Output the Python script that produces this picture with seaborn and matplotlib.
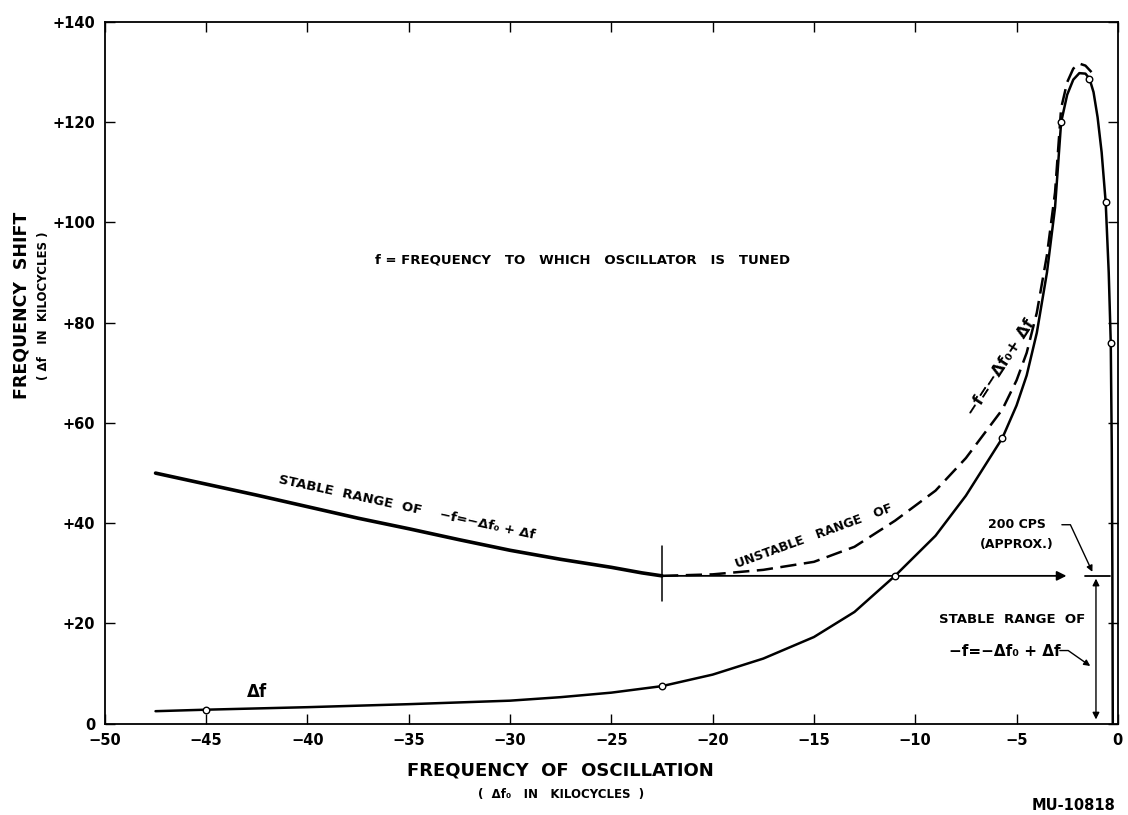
import matplotlib
matplotlib.use("Agg")
import matplotlib.pyplot as plt
import seaborn as sns
import pandas as pd

# Δf curve (frequency shift vs frequency of oscillation)
df_x = [-47.5, -45, -40, -35, -30, -27.5, -25, -22.5, -20, -17.5, -15, -13, -11, -9, -7.5,
        -5.7, -5.0, -4.5, -4.0, -3.5, -3.1, -2.8, -2.5, -2.2, -1.9, -1.6, -1.4, -1.2, -1.0,
        -0.8, -0.6, -0.45, -0.35, -0.3, -0.27, -0.25]
df_y = [2.5, 2.8, 3.3, 3.9, 4.6, 5.3, 6.2, 7.5, 9.8, 13.0, 17.3, 22.3, 29.5, 37.5, 45.5,
        57, 63.5, 69.5, 78, 90, 103, 120, 125.5, 128.5, 129.8, 129.7, 128.7, 126, 121,
        114, 104, 90, 76, 55, 30, 0]
# measured points (open circles)
pt_x = [-45, -22.5, -11, -5.7, -2.8, -1.4, -0.6, -0.35]
pt_y = [2.8, 7.5, 29.5, 57, 120, 128.7, 104, 76]

# stable range of -f = -Δf0 + Δf
stab_x = [-47.5, -45, -42.5, -40, -37.5, -35, -32.5, -30, -27.5, -25, -23.5, -22.5]
stab_y = [50, 47.8, 45.6, 43.3, 41.0, 38.9, 36.7, 34.6, 32.8, 31.2, 30.1, 29.5]

# unstable range of -f = -Δf0 + Δf (dashed)
unst_x = [-22.5, -20, -17.5, -15, -13, -11, -9, -7.5, -5.7, -5.0, -4.5, -4.0, -3.5, -3.1,
          -2.8, -2.5, -2.2, -1.9, -1.6, -1.3]
unst_y = [29.5, 29.8, 30.7, 32.3, 35.3, 40.5, 46.5, 53, 62.7, 68.5, 74, 82, 93.5, 106,
          122.8, 128, 130.7, 131.7, 131.3, 130]

x_ticks = [-50, -45, -40, -35, -30, -25, -20, -15, -10, -5, 0]
x_labels = ["\u221250", "\u221245", "\u221240", "\u221235", "\u221230", "\u221225",
            "\u221220", "\u221215", "\u221210", "\u22125", "0"]
y_ticks = [0, 20, 40, 60, 80, 100, 120, 140]
y_labels = ["0", "+20", "+40", "+60", "+80", "+100", "+120", "+140"]

level = 29.5  # frequency-shift level of the stable/unstable boundary

sns.set_theme(style="ticks")
plt.rcParams['font.family'] = ['DejaVu Sans']
plt.rcParams['font.weight'] = 'bold'
for k in ["text.color", "axes.labelcolor", "xtick.color", "ytick.color", "axes.edgecolor"]:
    plt.rcParams[k] = "black"

fig = plt.figure(figsize=(11.28, 8.15), dpi=100)
ax = fig.add_axes([0.093, 0.112, 0.898, 0.861])

d_df = pd.DataFrame({"x": df_x, "y": df_y})
d_st = pd.DataFrame({"x": stab_x, "y": stab_y})
d_un = pd.DataFrame({"x": unst_x, "y": unst_y})
d_pt = pd.DataFrame({"x": pt_x, "y": pt_y})

sns.lineplot(data=d_df, x="x", y="y", sort=False, estimator=None, color="black", lw=1.8, ax=ax)
sns.lineplot(data=d_st, x="x", y="y", sort=False, estimator=None, color="black", lw=2.6, ax=ax)
sns.lineplot(data=d_un, x="x", y="y", sort=False, estimator=None, color="black", lw=1.8, ax=ax)
ax.lines[-1].set_dashes((6.5, 3))
sns.scatterplot(data=d_pt, x="x", y="y", marker="o", s=22, facecolor="white",
                edgecolor="black", linewidth=1.0, zorder=5, ax=ax)

# horizontal boundary line with arrow
ax.annotate("", xy=(-2.4, level), xytext=(-22.5, level),
            arrowprops=dict(arrowstyle="-|>", color="black", lw=1.3, mutation_scale=14))
ax.plot([-1.6, -0.4], [level, level], color="black", lw=1.3)
# vertical marker at start of unstable range
ax.plot([-22.5, -22.5], [24.5, 35.5], color="black", lw=1.1)
# vertical double arrow (stable range)
ax.annotate("", xy=(-1.08, 0.3), xytext=(-1.08, level),
            arrowprops=dict(arrowstyle="<|-|>", color="black", lw=1.0, mutation_scale=10))

ax.set_xlim(-50, 0)
ax.set_ylim(0, 140)
ax.set_xticks(x_ticks)
ax.set_xticklabels(x_labels, fontsize=10.5, fontweight="bold")
ax.set_yticks(y_ticks)
ax.set_yticklabels(y_labels, fontsize=10.5, fontweight="bold")
ax.tick_params(direction="in", top=True, right=True, length=7, width=1.0, pad=7)
for s in ax.spines.values():
    s.set_linewidth(1.3)
    s.set_color("black")
ax.set_xlabel("")
ax.set_ylabel("")

# texts
ax.text(-26.4, 92.5, "f = FREQUENCY   TO   WHICH   OSCILLATOR   IS   TUNED",
        ha="center", va="center", fontsize=9.5, fontweight="bold")
ax.text(-35.1, 43.2, "STABLE  RANGE  OF    \u2212f=\u2212\u0394f\u2080 + \u0394f",
        ha="center", va="center", fontsize=9.5, fontweight="bold", rotation=-12.3,
        rotation_mode="anchor")
ax.text(-15.0, 37.5, "UNSTABLE   RANGE   OF",
        ha="center", va="center", fontsize=9, fontweight="bold", rotation=20,
        rotation_mode="anchor")
ax.text(-5.8, 71, "\u2212f=\u2212\u0394f\u2080+ \u0394f",
        ha="center", va="center", fontsize=11.5, fontweight="bold", rotation=57,
        rotation_mode="anchor")
ax.text(-42.5, 6.3, "\u0394f", ha="center", va="center", fontsize=12, fontweight="bold")

ax.text(-5.0, 39.7, "200 CPS", ha="center", va="center", fontsize=9, fontweight="bold")
ax.text(-5.0, 35.8, "(APPROX.)", ha="center", va="center", fontsize=9, fontweight="bold")
ax.annotate("", xy=(-1.2, level + 0.3), xytext=(-2.9, 39.7),
            arrowprops=dict(arrowstyle="-|>", color="black", lw=1.0, mutation_scale=9,
                            connectionstyle="angle,angleA=0,angleB=-65,rad=0"))
ax.text(-5.2, 20.8, "STABLE  RANGE  OF", ha="center", va="center", fontsize=9.5, fontweight="bold")
ax.text(-5.6, 14.4, "\u2212f=\u2212\u0394f\u2080 + \u0394f", ha="center", va="center",
        fontsize=11, fontweight="bold")
ax.annotate("", xy=(-1.25, 11.2), xytext=(-3.0, 14.6),
            arrowprops=dict(arrowstyle="-|>", color="black", lw=1.0, mutation_scale=9,
                            connectionstyle="angle,angleA=0,angleB=-35,rad=0"))

fig.text(0.019, 0.625, "FREQUENCY  SHIFT", rotation=90, ha="center", va="center",
         fontsize=12.5, fontweight="bold")
fig.text(0.039, 0.625, "( \u0394f   IN  KILOCYCLES )", rotation=90, ha="center", va="center",
         fontsize=8.5, fontweight="bold")
fig.text(0.497, 0.054, "FREQUENCY  OF  OSCILLATION", ha="center", va="center",
         fontsize=13, fontweight="bold")
fig.text(0.497, 0.025, "(  \u0394f\u2080   IN   KILOCYCLES  )", ha="center", va="center",
         fontsize=8.5, fontweight="bold")
fig.text(0.952, 0.012, "MU-10818", ha="center", va="center", fontsize=10.5, fontweight="bold")

fig.savefig("out.png", dpi=100)
